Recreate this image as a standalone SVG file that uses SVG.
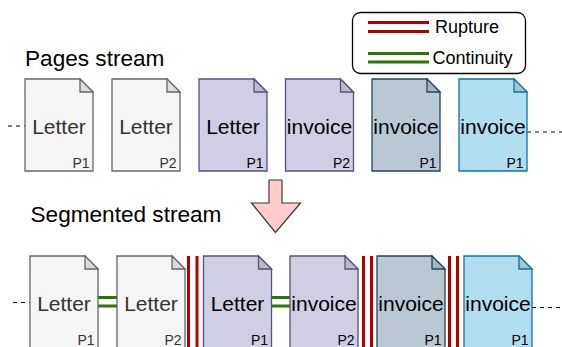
<svg xmlns="http://www.w3.org/2000/svg" width="562" height="347" viewBox="0 0 562 347">
<defs>
<style>
text{font-family:"Liberation Sans",Arial,Helvetica,sans-serif}
.title{font-size:22.6px;fill:#000}
.lbl{font-size:21px;text-anchor:middle;fill:#000}
.pg{font-size:14px;text-anchor:end;fill:#000}
.g .lbl,.g .pg{fill:#333333}
.body{stroke-width:1.3}
.fold{stroke-width:1.3;fill-opacity:1}
.g .body{fill:#f5f5f5;stroke:#666666}
.g .fold{fill:#dcdcdc;stroke:#666666}
.p .body{fill:#d0cee2;stroke:#56517e}
.p .fold{fill:#bbb9cb;stroke:#56517e}
.s .body{fill:#bac8d3;stroke:#23445d}
.s .fold{fill:#a7b4be;stroke:#23445d}
.b .body{fill:#b1ddf0;stroke:#10739e}
.b .fold{fill:#9fc7d8;stroke:#10739e}
.dash{stroke:#000;stroke-width:1.2;stroke-dasharray:4 4;fill:none}
.red{stroke:#b20000;stroke-width:3;fill:none}
.grn{stroke:#2d7600;stroke-width:3;fill:none}
</style>
<path id="docBody" d="M0,0 H55 L68,13 V92 H0 Z"/>
<path id="docFold" d="M55,0 V13 H68 Z"/>
</defs>
<rect width="562" height="347" fill="#ffffff"/>

<text class="title" x="25" y="65.5">Pages stream</text>
<text class="title" x="30.5" y="221.5">Segmented stream</text>

<g id="legend">
<rect x="352.5" y="12.5" width="173" height="61" rx="8" ry="8" fill="#ffffff" stroke="#000" stroke-width="1.3"/>
<line class="red" x1="368" y1="22.5" x2="429" y2="22.5"/>
<line class="red" x1="368" y1="31.5" x2="429" y2="31.5"/>
<line class="grn" x1="368" y1="53.5" x2="429" y2="53.5"/>
<line class="grn" x1="368" y1="62" x2="429" y2="62"/>
<text x="435" y="33" font-size="18" fill="#000">Rupture</text>
<text x="432.5" y="63.5" font-size="18" fill="#000">Continuity</text>
</g>

<g id="connectors">
<line class="dash" x1="8" y1="126" x2="25" y2="126"/>
<line class="dash" x1="527" y1="132" x2="562" y2="132"/>
<line class="dash" x1="13" y1="302.5" x2="30" y2="302.5"/>
<line class="dash" x1="532" y1="307.5" x2="562" y2="307.5"/>
<line class="grn" x1="98" y1="297.5" x2="117" y2="297.5"/>
<line class="grn" x1="98" y1="306" x2="117" y2="306"/>
<line class="grn" x1="271.5" y1="297.5" x2="290" y2="297.5"/>
<line class="grn" x1="271.5" y1="306" x2="290" y2="306"/>
<line class="red" x1="188.5" y1="256" x2="188.5" y2="347"/>
<line class="red" x1="197" y1="256" x2="197" y2="347"/>
<line class="red" x1="363.5" y1="256" x2="363.5" y2="347"/>
<line class="red" x1="371.5" y1="256" x2="371.5" y2="347"/>
<line class="red" x1="449.5" y1="256" x2="449.5" y2="347"/>
<line class="red" x1="457.5" y1="256" x2="457.5" y2="347"/>
</g>

<g id="arrow">
<polygon points="269,180 282,180 282,203 300.5,203 275.5,232.5 251.5,203 269,203" fill="#ffcccc" stroke="#36393d" stroke-width="1.2"/>
</g>

<g id="top1" class="g" transform="translate(25,79)"><use class="body" href="#docBody"/><use class="fold" href="#docFold"/><text class="lbl" x="34" y="54.5">Letter</text><text class="pg" x="64.5" y="89">P1</text></g>
<g id="top2" class="g" transform="translate(112,79)"><use class="body" href="#docBody"/><use class="fold" href="#docFold"/><text class="lbl" x="34" y="54.5">Letter</text><text class="pg" x="64.5" y="89">P2</text></g>
<g id="top3" class="p" transform="translate(199,79)"><use class="body" href="#docBody"/><use class="fold" href="#docFold"/><text class="lbl" x="34" y="54.5">Letter</text><text class="pg" x="64.5" y="89">P1</text></g>
<g id="top4" class="p" transform="translate(285.5,79)"><use class="body" href="#docBody"/><use class="fold" href="#docFold"/><text class="lbl" x="34" y="54.5">invoice</text><text class="pg" x="64.5" y="89">P2</text></g>
<g id="top5" class="s" transform="translate(372,79)"><use class="body" href="#docBody"/><use class="fold" href="#docFold"/><text class="lbl" x="34" y="54.5">invoice</text><text class="pg" x="64.5" y="89">P1</text></g>
<g id="top6" class="b" transform="translate(459,79)"><use class="body" href="#docBody"/><use class="fold" href="#docFold"/><text class="lbl" x="34" y="54.5">invoice</text><text class="pg" x="64.5" y="89">P1</text></g>

<g id="seg1" class="g" transform="translate(30,256)"><use class="body" href="#docBody"/><use class="fold" href="#docFold"/><text class="lbl" x="34" y="54.5">Letter</text><text class="pg" x="64.5" y="89">P1</text></g>
<g id="seg2" class="g" transform="translate(117,256)"><use class="body" href="#docBody"/><use class="fold" href="#docFold"/><text class="lbl" x="34" y="54.5">Letter</text><text class="pg" x="64.5" y="89">P2</text></g>
<g id="seg3" class="p" transform="translate(203.5,256)"><use class="body" href="#docBody"/><use class="fold" href="#docFold"/><text class="lbl" x="34" y="54.5">Letter</text><text class="pg" x="64.5" y="89">P1</text></g>
<g id="seg4" class="p" transform="translate(290,256)"><use class="body" href="#docBody"/><use class="fold" href="#docFold"/><text class="lbl" x="34" y="54.5">invoice</text><text class="pg" x="64.5" y="89">P2</text></g>
<g id="seg5" class="s" transform="translate(377,256)"><use class="body" href="#docBody"/><use class="fold" href="#docFold"/><text class="lbl" x="34" y="54.5">invoice</text><text class="pg" x="64.5" y="89">P1</text></g>
<g id="seg6" class="b" transform="translate(464,256)"><use class="body" href="#docBody"/><use class="fold" href="#docFold"/><text class="lbl" x="34" y="54.5">invoice</text><text class="pg" x="64.5" y="89">P1</text></g>
</svg>
